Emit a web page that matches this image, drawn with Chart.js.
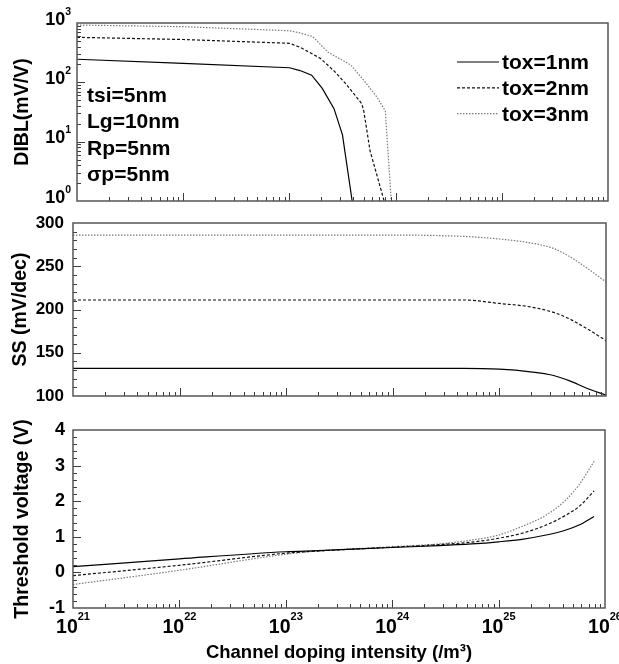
<!DOCTYPE html>
<html>
<head>
<meta charset="utf-8">
<script src="https://cdn.jsdelivr.net/npm/chart.js@4.4.1/dist/chart.umd.min.js"></script>
<style>
  html, body { margin: 0; padding: 0; background: #fff; }
  #wrap { position: relative; width: 619px; height: 664px; overflow: hidden; }
  #wrap canvas { position: absolute; left: 0; }
</style>
</head>
<body>
<div id="wrap">
  <canvas id="dibl" width="619" height="215" style="top:0px"></canvas>
  <canvas id="ss" width="619" height="195" style="top:215px"></canvas>
  <canvas id="vth" width="619" height="254" style="top:410px"></canvas>
</div>
<script>
const seriesLabels = ['tox=1nm', 'tox=2nm', 'tox=3nm'];
const deviceNotes = ['tsi=5nm', 'Lg=10nm', 'Rp=5nm', 'σp=5nm'];

// power-of-ten tick labels: "10" plus a raised exponent
const xTickValues = [1e21, 1e22, 1e23, 1e24, 1e25, 1e26];
const xTickExponents = ['21', '22', '23', '24', '25', '26'];
const diblTickValues = [1, 10, 100, 1000];
const diblTickExponents = ['0', '1', '2', '3'];

// DIBL (mV/V)
const diblDoping1 = [1e21, 1e22, 1e23, 1.26e23, 1.62e23, 2.04e23, 2.63e23, 3.16e23, 3.9e23];
const diblTox1 = [245, 209, 176, 158, 132, 79, 36, 13, 1];
const diblDoping2 = [1e21, 1e22, 1e23, 1.26e23, 1.95e23, 2.69e23, 3.39e23, 4.79e23, 5.0e23, 5.75e23, 7.8e23];
const diblTox2 = [573, 527, 455, 390, 255, 150, 95, 44, 34, 7, 1];
const diblDoping3 = [1e21, 1e22, 1e23, 1.26e23, 1.66e23, 2.29e23, 3.8e23, 5.0e23, 6.6e23, 8.0e23, 9.1e23];
const diblTox3 = [925, 866, 740, 680, 590, 325, 195, 109, 58, 33, 1];

// SS (mV/dec)
const ssDoping = [1e21, 1e22, 1e23, 1e24, 4.6e24, 1e25, 1.95e25, 3.16e25, 4.57e25, 6.6e25, 1e26];
const ssTox1 = [132, 132, 132, 132, 132, 131, 128, 124, 117.5, 109, 101];
const ssTox2 = [211, 211, 211, 211, 211, 207, 203, 197, 189, 178, 164];
const ssTox3 = [286, 286, 286, 286, 284.5, 281.5, 277, 271, 261, 248, 232];

// threshold voltage (V)
const vthDoping = [1e21, 1e22, 1e23, 2e23, 1e24, 2.75e24, 5.6e24, 1e25, 1.66e25, 2.8e25, 4.3e25, 5.7e25, 7.9e25];
const vthTox1 = [0.16, 0.38, 0.58, 0.61, 0.70, 0.75, 0.80, 0.86, 0.93, 1.05, 1.19, 1.33, 1.57];
const vthTox2 = [-0.09, 0.2, 0.54, 0.6, 0.71, 0.78, 0.85, 0.96, 1.10, 1.33, 1.61, 1.85, 2.29];
const vthTox3 = [-0.34, 0.06, 0.51, 0.6, 0.72, 0.80, 0.91, 1.05, 1.29, 1.61, 2.04, 2.46, 3.12];

const FONT = '"Liberation Sans", Arial, sans-serif';
Chart.defaults.font.family = FONT;
Chart.defaults.font.weight = 'bold';
Chart.defaults.color = '#000';

const lineStyles = [
  { borderColor: '#000', borderDash: [] },
  { borderColor: '#111', borderDash: [3, 2] },
  { borderColor: '#7a7a7a', borderDash: [1.5, 1.5] }
];

function pts(xs, ys) {
  return xs.map((x, i) => ({ x: x, y: ys[i] }));
}

function makeSets(xsList, ysList, smooth) {
  return ysList.map((ys, i) => Object.assign({
    label: seriesLabels[i],
    data: pts(xsList[i], ys),
    borderWidth: 1.2,
    pointRadius: 0,
    fill: false,
    tension: 0,
    cubicInterpolationMode: smooth ? 'monotone' : 'default'
  }, lineStyles[i]));
}

function logSteps(min, max) {
  const out = [];
  for (let d = Math.floor(Math.log10(min)); d <= Math.ceil(Math.log10(max)); d++) {
    for (let k = 1; k <= 9; k++) {
      const v = k * Math.pow(10, d);
      if (v > min * 1.0001 && v < max * 0.9999) out.push({ v: v, major: k === 1 });
    }
  }
  return out;
}

function linSteps(min, max, minor, major) {
  const out = [];
  const n = Math.round((max - min) / minor);
  for (let i = 1; i < n; i++) {
    const v = min + i * minor;
    out.push({ v: v, major: Math.abs(v / major - Math.round(v / major)) < 1e-6 });
  }
  return out;
}

// inward tick marks and the plot frame
const frameTicks = {
  id: 'frameTicks',
  afterDatasetsDraw(chart, args, opts) {
    const { ctx, chartArea: a, scales } = chart;
    const x = scales.x, y = scales.y;
    ctx.save();
    ctx.strokeStyle = '#3c3c3c';
    ctx.lineWidth = 1;
    ctx.beginPath();
    logSteps(x.min, x.max).forEach(t => {
      const px = Math.round(x.getPixelForValue(t.v)) + 0.5;
      ctx.moveTo(px, a.bottom);
      ctx.lineTo(px, a.bottom - (t.major ? 8 : 4));
    });
    const yt = opts.yLog ? logSteps(y.min, y.max) : linSteps(y.min, y.max, opts.yMinor, opts.yMajor);
    yt.forEach(t => {
      const py = Math.round(y.getPixelForValue(t.v)) + 0.5;
      ctx.moveTo(a.left, py);
      ctx.lineTo(a.left + (t.major ? 8 : 4), py);
    });
    ctx.stroke();
    ctx.strokeStyle = '#555';
    ctx.lineWidth = 1.5;
    ctx.strokeRect(a.left, a.top, a.right - a.left, a.bottom - a.top);
    ctx.restore();
  }
};

// "10" with a raised exponent, placed through the chart's own scale
const powerLabels = {
  id: 'powerLabels',
  afterDraw(chart, args, opts) {
    const { ctx, chartArea: a } = chart;
    const sc = chart.scales[opts.axis];
    ctx.save();
    ctx.fillStyle = '#000';
    ctx.textAlign = 'left';
    ctx.textBaseline = 'alphabetic';
    opts.values.forEach((v, i) => {
      const sup = opts.exponents[i];
      ctx.font = 'bold ' + opts.baseSize + 'px ' + FONT;
      const wb = ctx.measureText('10').width;
      ctx.font = 'bold ' + opts.supSize + 'px ' + FONT;
      const ws = ctx.measureText(sup).width;
      const p = sc.getPixelForValue(v);
      let x0, yb;
      if (opts.axis === 'x') {
        x0 = p - (wb + ws) / 2;
        yb = a.bottom + opts.baseDrop;
      } else {
        x0 = a.left - opts.gap - (wb + ws);
        yb = p + opts.baseDrop;
      }
      ctx.font = 'bold ' + opts.baseSize + 'px ' + FONT;
      ctx.fillText('10', x0, yb);
      ctx.font = 'bold ' + opts.supSize + 'px ' + FONT;
      ctx.fillText(sup, x0 + wb, yb - opts.supRise);
    });
    ctx.restore();
  }
};

// legend and device parameters in the DIBL panel
const diblNotes = {
  id: 'diblNotes',
  afterDraw(chart) {
    const ctx = chart.ctx;
    ctx.save();
    ctx.font = 'bold 21px ' + FONT;
    ctx.fillStyle = '#000';
    ctx.textBaseline = 'alphabetic';
    ctx.textAlign = 'left';
    const noteBase = [102, 128, 155, 181];
    deviceNotes.forEach((t, i) => ctx.fillText(t, 87, noteBase[i]));
    chart.data.datasets.forEach((ds, i) => {
      const ly = 62 + i * 25.8;
      ctx.strokeStyle = ds.borderColor;
      ctx.lineWidth = 1.2;
      ctx.setLineDash(ds.borderDash);
      ctx.beginPath();
      ctx.moveTo(457, ly);
      ctx.lineTo(499, ly);
      ctx.stroke();
      ctx.setLineDash([]);
      ctx.fillText(ds.label, 502, ly + 7);
    });
    ctx.restore();
  }
};

function xScale(showTitle) {
  return {
    type: 'logarithmic',
    min: 1e21,
    max: 1e26,
    display: showTitle,
    grid: { display: false, drawTicks: false },
    border: { display: false },
    ticks: { display: false },
    title: {
      display: showTitle,
      text: 'Channel doping intensity (/m³)',
      font: { size: 18.5, weight: 'bold' },
      padding: { top: 0, bottom: 0 }
    },
    afterFit(s) {
      if (showTitle) s.height = 56;
      s.paddingLeft = 0;
      s.paddingRight = 0;
    }
  };
}

function yBase(title, titlePad, width) {
  return {
    grid: { display: false, drawTicks: false },
    border: { display: false },
    title: {
      display: true,
      text: title,
      font: { size: 19.5, weight: 'bold' },
      padding: { top: titlePad, bottom: 0 }
    },
    afterFit(s) {
      s.width = width;
      s.paddingTop = 0;
      s.paddingBottom = 0;
    }
  };
}

const diblY = Object.assign(yBase('DIBL(mV/V)', 11, 77), {
  type: 'logarithmic',
  min: 1,
  max: 1000
});
diblY.ticks = { display: false };

new Chart(document.getElementById('dibl'), {
  type: 'line',
  data: { datasets: makeSets([diblDoping1, diblDoping2, diblDoping3], [diblTox1, diblTox2, diblTox3], false) },
  options: {
    responsive: false,
    animation: false,
    layout: { padding: { top: 23, right: 11, bottom: 14, left: 0 } },
    scales: { x: xScale(false), y: diblY },
    plugins: {
      legend: { display: false },
      tooltip: { enabled: false },
      frameTicks: { yLog: true },
      powerLabels: {
        axis: 'y', values: diblTickValues, exponents: diblTickExponents,
        baseSize: 18, supSize: 10.5, baseDrop: 1.5, supRise: 10, gap: 6
      }
    }
  },
  plugins: [frameTicks, powerLabels, diblNotes]
});

const ssY = Object.assign(yBase('SS (mV/dec)', 8.5, 73), {
  type: 'linear',
  min: 100,
  max: 300
});
ssY.ticks = { stepSize: 50, padding: 9, font: { size: 17, weight: 'bold' } };

new Chart(document.getElementById('ss'), {
  type: 'line',
  data: { datasets: makeSets([ssDoping, ssDoping, ssDoping], [ssTox1, ssTox2, ssTox3], true) },
  options: {
    responsive: false,
    animation: false,
    layout: { padding: { top: 8, right: 13, bottom: 14, left: 0 } },
    scales: { x: xScale(false), y: ssY },
    plugins: {
      legend: { display: false },
      tooltip: { enabled: false },
      frameTicks: { yLog: false, yMinor: 10, yMajor: 50 }
    }
  },
  plugins: [frameTicks]
});

const vthY = Object.assign(yBase('Threshold voltage (V)', 11, 73), {
  type: 'linear',
  min: -1,
  max: 4
});
vthY.ticks = { stepSize: 1, padding: 8, font: { size: 18, weight: 'bold' } };

new Chart(document.getElementById('vth'), {
  type: 'line',
  data: { datasets: makeSets([vthDoping, vthDoping, vthDoping], [vthTox1, vthTox2, vthTox3], true) },
  options: {
    responsive: false,
    animation: false,
    layout: { padding: { top: 20, right: 14, bottom: 0, left: 0 } },
    scales: { x: xScale(true), y: vthY },
    plugins: {
      legend: { display: false },
      tooltip: { enabled: false },
      frameTicks: { yLog: false, yMinor: 0.2, yMajor: 1 },
      powerLabels: {
        axis: 'x', values: xTickValues, exponents: xTickExponents,
        baseSize: 19.5, supSize: 11, baseDrop: 25, supRise: 13, gap: 0
      }
    }
  },
  plugins: [frameTicks, powerLabels]
});
</script>
</body>
</html>
